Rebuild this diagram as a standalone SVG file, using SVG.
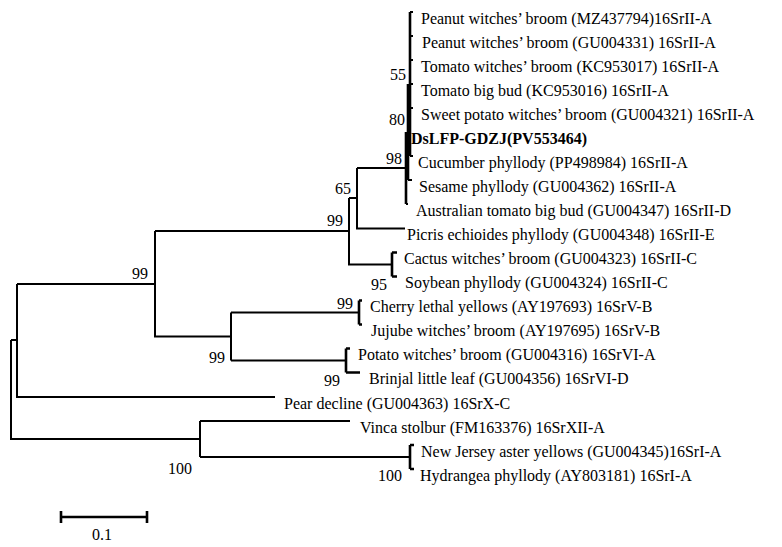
<svg xmlns="http://www.w3.org/2000/svg" width="782" height="547" viewBox="0 0 782 547">
<style>
text{font-family:'Liberation Serif','DejaVu Serif',serif;font-size:16px;fill:#000}
.b{font-weight:bold}
.l{text-anchor:end}
.e{fill:none;stroke:#000;stroke-width:2}
.k{fill:none;stroke:#000;stroke-width:2.6}
</style>
<rect width="782" height="547" fill="#fff"/>
<g id="connectors">
<path class="k" d="M410,12V156M408,84V180M406,132V204"/>
<path class="e" d="M410,12H413M410,36H413M410,60H413M410,84H413M410,108H413M410,156H413M408,180H412M406,204H408"/>
<path class="e" d="M357,168H406M357,168V228.5H405"/>
<path class="e" d="M349,198H357M349,198V264.5H392"/>
<path class="k" d="M392,252.5V276.5M392,252.5H397M392,276.5H397"/>
<path class="e" d="M155,231H349M155,231V336.5H231"/>
<path class="e" d="M231,312.5V360.5M231,312.5H359M231,360.5H346"/>
<path class="k" d="M359,300.5V324.5M359,300.5H362M359,324.5H362"/>
<path class="k" d="M346,348.5V372.5M346,348.5H350M346,372.5H360"/>
<path class="e" d="M17,284H155M17,284V397H275"/>
<path class="e" d="M11,340H17M11,340V439H200"/>
<path class="e" d="M200,421V457M200,421H350M200,457H410"/>
<path class="k" d="M410,445V469M410,445H414M410,469H414"/>
</g>
<g id="leaves">
<text id="n1" x="421" y="23.5">Peanut witches’ broom (MZ437794)16SrII-A</text>
<text id="n2" x="422" y="47.5">Peanut witches’ broom (GU004331) 16SrII-A</text>
<text id="n3" x="421" y="71.5">Tomato witches’ broom (KC953017) 16SrII-A</text>
<text id="n4" x="421" y="95.5">Tomato big bud (KC953016) 16SrII-A</text>
<text id="n5" x="421" y="119.5">Sweet potato witches’ broom (GU004321) 16SrII-A</text>
<text id="n6" class="b" x="411" y="143.5">DsLFP-GDZJ(PV553464)</text>
<text id="n7" x="418" y="167.5">Cucumber phyllody (PP498984) 16SrII-A</text>
<text id="n8" x="419" y="191.5">Sesame phyllody (GU004362) 16SrII-A</text>
<text id="n9" x="416" y="215.5">Australian tomato big bud (GU004347) 16SrII-D</text>
<text id="n10" x="407" y="239.5">Picris echioides phyllody (GU004348) 16SrII-E</text>
<text id="n11" x="404" y="264">Cactus witches’ broom (GU004323) 16SrII-C</text>
<text id="n12" x="405" y="288">Soybean phyllody (GU004324) 16SrII-C</text>
<text id="n13" x="370" y="312">Cherry lethal yellows (AY197693) 16SrV-B</text>
<text id="n14" x="371" y="336">Jujube witches’ broom (AY197695) 16SrV-B</text>
<text id="n15" x="358" y="360">Potato witches’ broom (GU004316) 16SrVI-A</text>
<text id="n16" x="369" y="384">Brinjal little leaf (GU004356) 16SrVI-D</text>
<text id="n17" x="284" y="408.5">Pear decline (GU004363) 16SrX-C</text>
<text id="n18" x="360" y="432.5">Vinca stolbur (FM163376) 16SrXII-A</text>
<text id="n19" x="421" y="456.5">New Jersey aster yellows (GU004345)16SrI-A</text>
<text id="n20" x="420" y="480.5">Hydrangea phyllody (AY803181) 16SrI-A</text>
</g>
<g id="bootstrap">
<text class="l" x="406" y="80">55</text>
<text class="l" x="405" y="125">80</text>
<text class="l" x="402" y="164">98</text>
<text class="l" x="351" y="194">65</text>
<text class="l" x="343" y="226">99</text>
<text class="l" x="148" y="279">99</text>
<text class="l" x="387" y="290">95</text>
<text class="l" x="353" y="309">99</text>
<text class="l" x="225" y="363">99</text>
<text class="l" x="340" y="386">99</text>
<text class="l" x="192" y="474">100</text>
<text class="l" x="402" y="481">100</text>
</g>
<g id="scalebar">
<path class="k" d="M61,517H147M61,511V523M147,511V523"/>
<text x="102" y="540" text-anchor="middle">0.1</text>
</g>
</svg>
